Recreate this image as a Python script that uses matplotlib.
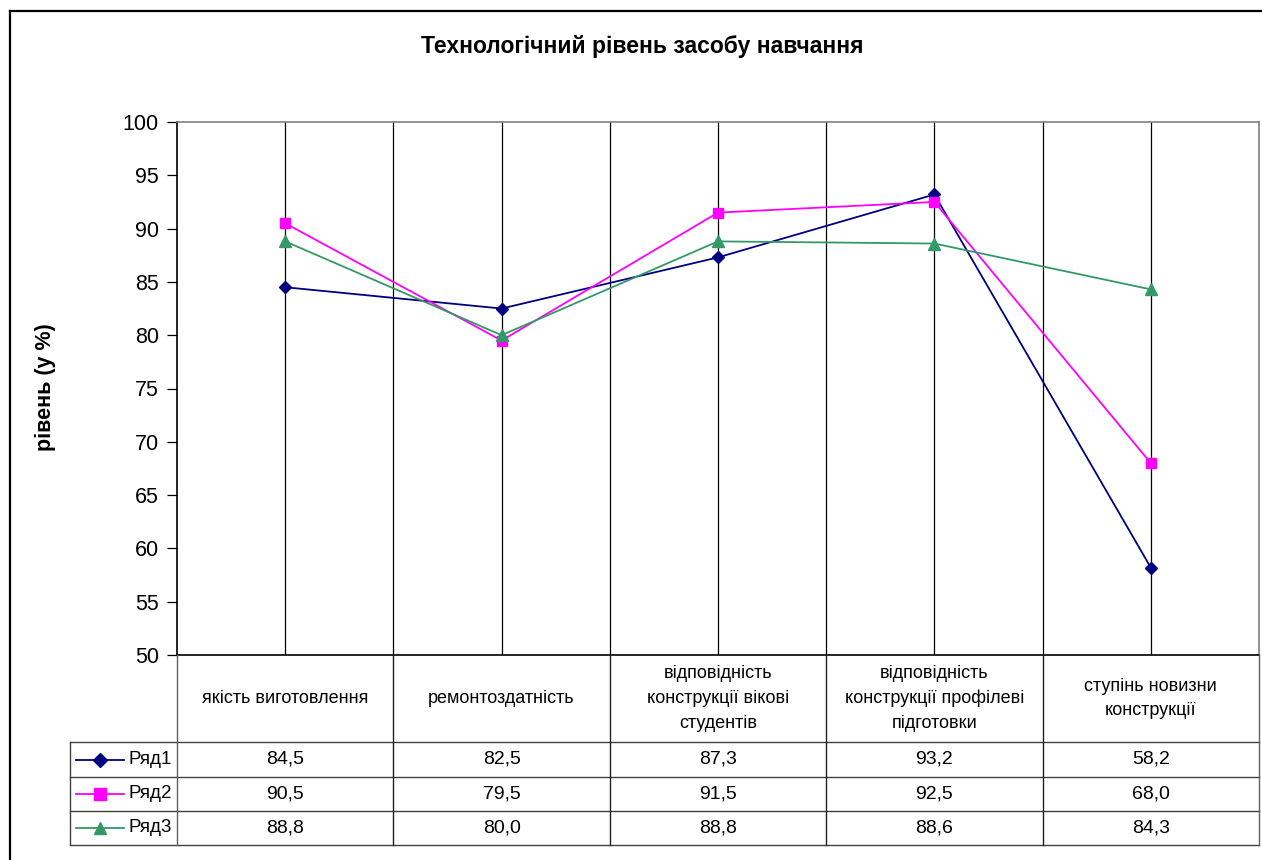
import matplotlib.pyplot as plt
from matplotlib.lines import Line2D
import numpy as np

plt.rcParams["font.family"] = ["Liberation Sans", "DejaVu Sans"]

categories = ["якість виготовлення",
              "ремонтоздатність",
              "відповідність\nконструкції вікові\nстудентів",
              "відповідність\nконструкції профілеві\nпідготовки",
              "ступінь новизни\nконструкції"]
series_names = ["Ряд1", "Ряд2", "Ряд3"]
ryad1 = [84.5, 82.5, 87.3, 93.2, 58.2]
ryad2 = [90.5, 79.5, 91.5, 92.5, 68.0]
ryad3 = [88.8, 80.0, 88.8, 88.6, 84.3]
y_ticks = [50, 55, 60, 65, 70, 75, 80, 85, 90, 95, 100]

COLORS = ["#000080", "#FF00FF", "#339966"]
MARKERS = ["D", "s", "^"]
MSIZES = [6, 7, 8]

W, H = 1262, 860
fig = plt.figure(figsize=(W / 100, H / 100), dpi=100)
fig.patch.set_facecolor("white")

def fx(px):
    return px / W

def fy(py):
    return 1 - py / H

# outer chart border
fig.add_artist(Line2D([fx(10), fx(1275)], [fy(11), fy(11)], color="black", lw=1.6))
fig.add_artist(Line2D([fx(10), fx(10)], [fy(11), fy(875)], color="black", lw=1.6))

left, right, top, bottom = 177, 1259, 122, 655
ax = fig.add_axes([fx(left), fy(bottom), fx(right - left), (bottom - top) / H])
x = np.arange(len(categories))
ax.set_xlim(-0.5, len(categories) - 0.5)
ax.set_ylim(50, 100)

for xv in list(x) + list(x[:-1] + 0.5):
    ax.axvline(xv, color="black", lw=0.9, zorder=1)

for vals, c, m, ms in zip([ryad1, ryad2, ryad3], COLORS, MARKERS, MSIZES):
    ax.plot(x, vals, color=c, marker=m, markersize=ms, lw=1.3, zorder=3)

ax.set_yticks(y_ticks)
ax.set_yticklabels([str(t) for t in y_ticks], fontsize=15.5)
ax.tick_params(axis="y", direction="out", length=7, width=0.9, pad=6)
ax.set_xticks([])
ax.spines["left"].set_color("black")
ax.spines["bottom"].set_color("black")
ax.spines["top"].set_color("#808080")
ax.spines["right"].set_color("#808080")
for s in ax.spines.values():
    s.set_linewidth(1.2)

fig.text(fx(45), fy(387), "рівень (у %)", rotation=90, ha="center", va="center",
         fontsize=15.5, fontweight="bold")
fig.text(fx(642), fy(47), "Технологічний рівень засобу навчання",
         ha="center", va="center", fontsize=16.5, fontweight="bold")

# data table
t_top, t_head, t_bot = 655, 742, 845
tax = fig.add_axes([fx(left), fy(t_bot), fx(right - left), (t_bot - t_top) / H])
tax.set_xlim(-0.5, len(categories) - 0.5)
tax.set_ylim(t_bot, t_top)
tax.axis("off")

row_lines = [742, 777, 811, 845]
leg_left = -0.5 - (left - 70) / ((right - left) / len(categories))
for yv in row_lines:
    tax.plot([leg_left, len(categories) - 0.5], [yv, yv], color="#404040", lw=1.0, clip_on=False)
for xv in np.arange(len(categories) + 1) - 0.5:
    tax.plot([xv, xv], [t_top, t_bot], color="#202020" if 0 < xv < 4 else "#606060",
             lw=1.0, clip_on=False)
tax.plot([leg_left, leg_left], [t_head, t_bot], color="#404040", lw=1.0, clip_on=False)

for i, cat in enumerate(categories):
    tax.text(i, (t_top + t_head) / 2, cat, ha="center", va="center",
             fontsize=13, linespacing=1.6)

for r, (name, vals, c, m, ms) in enumerate(zip(series_names, [ryad1, ryad2, ryad3],
                                               COLORS, MARKERS, MSIZES)):
    yc = (row_lines[r] + row_lines[r + 1]) / 2
    for i, v in enumerate(vals):
        tax.text(i, yc, f"{v:.1f}".replace(".", ","), ha="center", va="center", fontsize=14)
    x0 = leg_left + 0.03
    x1 = leg_left + 0.25
    tax.plot([x0, x1], [yc, yc], color=c, lw=1.3, clip_on=False)
    tax.plot([(x0 + x1) / 2], [yc], color=c, marker=m, markersize=ms + 1, clip_on=False)
    tax.text(x1 + 0.02, yc, name, ha="left", va="center", fontsize=13.5)

fig.savefig("out.png", dpi=100, facecolor="white")
